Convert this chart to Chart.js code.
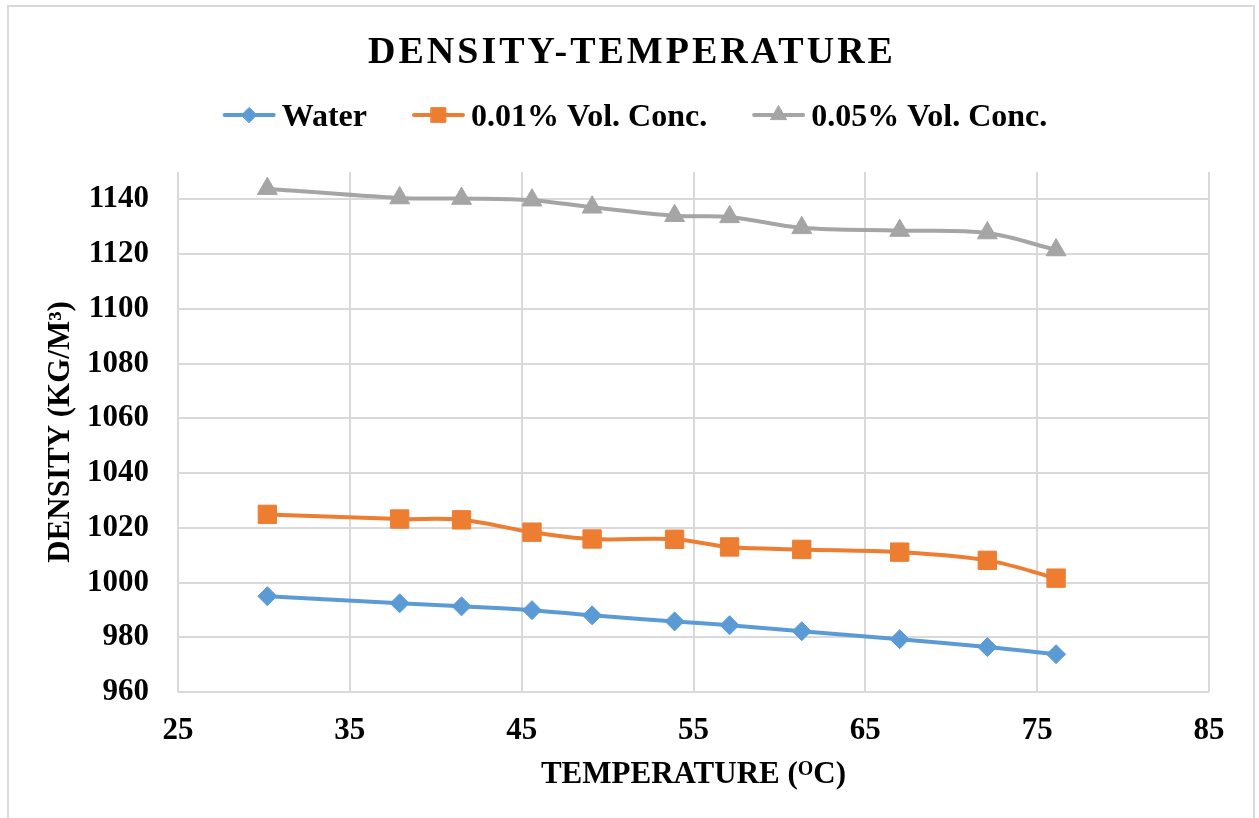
<!DOCTYPE html>
<html>
<head>
<meta charset="utf-8">
<script src="https://cdn.jsdelivr.net/npm/chart.js@4.4.1/dist/chart.umd.min.js"></script>
<style>
  html, body { margin: 0; padding: 0; background: #fff; }
  #wrap { width: 1259px; height: 818px; }
</style>
</head>
<body>
<div id="wrap"><canvas id="densityChart"></canvas></div>
<script>
// values
const temperature = [30.2, 37.9, 41.5, 45.6, 49.1, 53.9, 57.1, 61.3, 67.0, 72.1, 76.1];
const water   = [995.0, 992.4, 991.3, 989.9, 988.0, 985.8, 984.4, 982.2, 979.3, 976.4, 973.8];
const conc001 = [1024.9, 1023.2, 1022.9, 1018.4, 1015.9, 1015.8, 1013.0, 1012.1, 1011.1, 1008.1, 1001.6];
const conc005 = [1143.9, 1140.5, 1140.3, 1139.7, 1137.1, 1134.0, 1133.6, 1129.6, 1128.6, 1127.7, 1121.5];
const seriesNames = ['Water', '0.01% Vol. Conc.', '0.05% Vol. Conc.'];
const xTicks = [25, 35, 45, 55, 65, 75, 85];
const yTicks = [960, 980, 1000, 1020, 1040, 1060, 1080, 1100, 1120, 1140];

const SERIF = '"Liberation Serif", "Times New Roman", serif';
const GRID = '#d9d9d9';

function pts(ys) {
    return temperature.map((t, i) => ({ x: t, y: ys[i] }));
}

// white background + light frame around the whole chart
const framePlugin = {
    id: 'frame',
    beforeDraw(chart) {
        const ctx = chart.ctx;
        ctx.save();
        ctx.fillStyle = '#fff';
        ctx.fillRect(0, 0, chart.width, chart.height);
        ctx.strokeStyle = GRID;
        ctx.lineWidth = 2;
        ctx.strokeRect(8, 6, 1246, 840);
        ctx.restore();
    }
};

// title with letter spacing, Excel style
const titlePlugin = {
    id: 'spacedTitle',
    afterDraw(chart) {
        const ctx = chart.ctx;
        ctx.save();
        ctx.font = 'bold 38px ' + SERIF;
        ctx.letterSpacing = '3px';
        ctx.fillStyle = '#000';
        ctx.textAlign = 'center';
        ctx.textBaseline = 'alphabetic';
        ctx.fillText('DENSITY-TEMPERATURE', 632, 63);
        ctx.restore();
    }
};

// legend: line segment with the marker on it, then the label
const legendPlugin = {
    id: 'lineLegend',
    afterDraw(chart) {
        const ctx = chart.ctx;
        ctx.save();
        ctx.font = 'bold 32px ' + SERIF;
        const lineLen = 53, textGap = 6, itemGap = 45, y = 115;
        const items = chart.data.datasets.map(ds => ({ ds: ds, w: ctx.measureText(ds.label).width }));
        const total = items.reduce((s, it) => s + lineLen + textGap + it.w, 0) + itemGap * (items.length - 1);
        let x = 635 - total / 2;
        items.forEach(it => {
            const c = it.ds.borderColor;
            ctx.strokeStyle = c;
            ctx.lineWidth = 4;
            ctx.lineCap = 'round';
            ctx.beginPath();
            ctx.moveTo(x + 2, y);
            ctx.lineTo(x + lineLen - 2, y);
            ctx.stroke();
            ctx.fillStyle = c;
            ctx.lineWidth = 1;
            Chart.helpers.drawPoint(ctx, {
                pointStyle: it.ds.pointStyle,
                radius: it.ds.pointRadius * 0.8,
                borderWidth: 1,
                rotation: 0
            }, x + lineLen / 2, y);
            ctx.fillStyle = '#000';
            ctx.textAlign = 'left';
            ctx.textBaseline = 'alphabetic';
            ctx.fillText(it.ds.label, x + lineLen + textGap, 126);
            x += lineLen + textGap + it.w + itemGap;
        });
        ctx.restore();
    }
};

// x axis title with a superscript O
const xTitlePlugin = {
    id: 'xTitle',
    afterDraw(chart) {
        const ctx = chart.ctx;
        const area = chart.chartArea;
        ctx.save();
        ctx.fillStyle = '#000';
        ctx.textBaseline = 'alphabetic';
        ctx.textAlign = 'left';
        const big = 'bold 31px ' + SERIF, small = 'bold 20px ' + SERIF;
        const parts = [['TEMPERATURE (', big, 0], ['O', small, -8], ['C)', big, 0]];
        let total = 0;
        parts.forEach(p => { ctx.font = p[1]; p.push(ctx.measureText(p[0]).width); total += p[3]; });
        let x = (area.left + area.right) / 2 - total / 2;
        parts.forEach(p => {
            ctx.font = p[1];
            ctx.fillText(p[0], x, 783 + p[2]);
            x += p[3];
        });
        ctx.restore();
    }
};

const ctx = document.getElementById('densityChart').getContext('2d');
const densityChart = new Chart(ctx, {
    type: 'line',
    data: {
        datasets: [{
            label: seriesNames[0],
            data: pts(water),
            borderColor: '#5B9BD5',
            backgroundColor: '#5B9BD5',
            pointStyle: 'rectRot',
            pointRadius: 9.5
        }, {
            label: seriesNames[1],
            data: pts(conc001),
            borderColor: '#ED7D31',
            backgroundColor: '#ED7D31',
            pointStyle: 'rect',
            pointRadius: 13
        }, {
            label: seriesNames[2],
            data: pts(conc005),
            borderColor: '#A5A5A5',
            backgroundColor: '#A5A5A5',
            pointStyle: 'triangle',
            pointRadius: 11.5
        }]
    },
    options: {
        responsive: true,
        maintainAspectRatio: false,
        animation: false,
        layout: { padding: { top: 172, right: 50, bottom: 0, left: 0 } },
        elements: {
            line: { borderWidth: 4, tension: 0.35 },
            point: { borderWidth: 1, hoverRadius: 10 }
        },
        plugins: {
            legend: { display: false },
            title: { display: false },
            tooltip: { enabled: false }
        },
        scales: {
            x: {
                type: 'linear',
                min: 25,
                max: 85,
                afterFit: s => { s.height = 126; },
                afterBuildTicks: s => { s.ticks = xTicks.map(v => ({ value: v })); },
                grid: { color: GRID, lineWidth: 2, drawTicks: false },
                border: { display: false },
                ticks: {
                    padding: 20,
                    color: '#000',
                    callback: v => String(v),
                    font: { family: SERIF, size: 31, weight: 'bold' }
                }
            },
            y: {
                min: 960,
                max: 1150,
                afterFit: s => { s.width = 178; },
                afterBuildTicks: s => { s.ticks = yTicks.map(v => ({ value: v })); },
                grid: { color: GRID, lineWidth: 2, drawTicks: false },
                border: { display: false },
                ticks: {
                    padding: 29,
                    color: '#000',
                    callback: v => String(v),
                    font: { family: SERIF, size: 31, weight: 'bold' }
                },
                title: {
                    display: true,
                    text: 'DENSITY (KG/M³)',
                    color: '#000',
                    padding: { top: 42, bottom: 0 },
                    font: { family: SERIF, size: 31, weight: 'bold' }
                }
            }
        }
    },
    plugins: [framePlugin, titlePlugin, legendPlugin, xTitlePlugin]
});
</script>
</body>
</html>
